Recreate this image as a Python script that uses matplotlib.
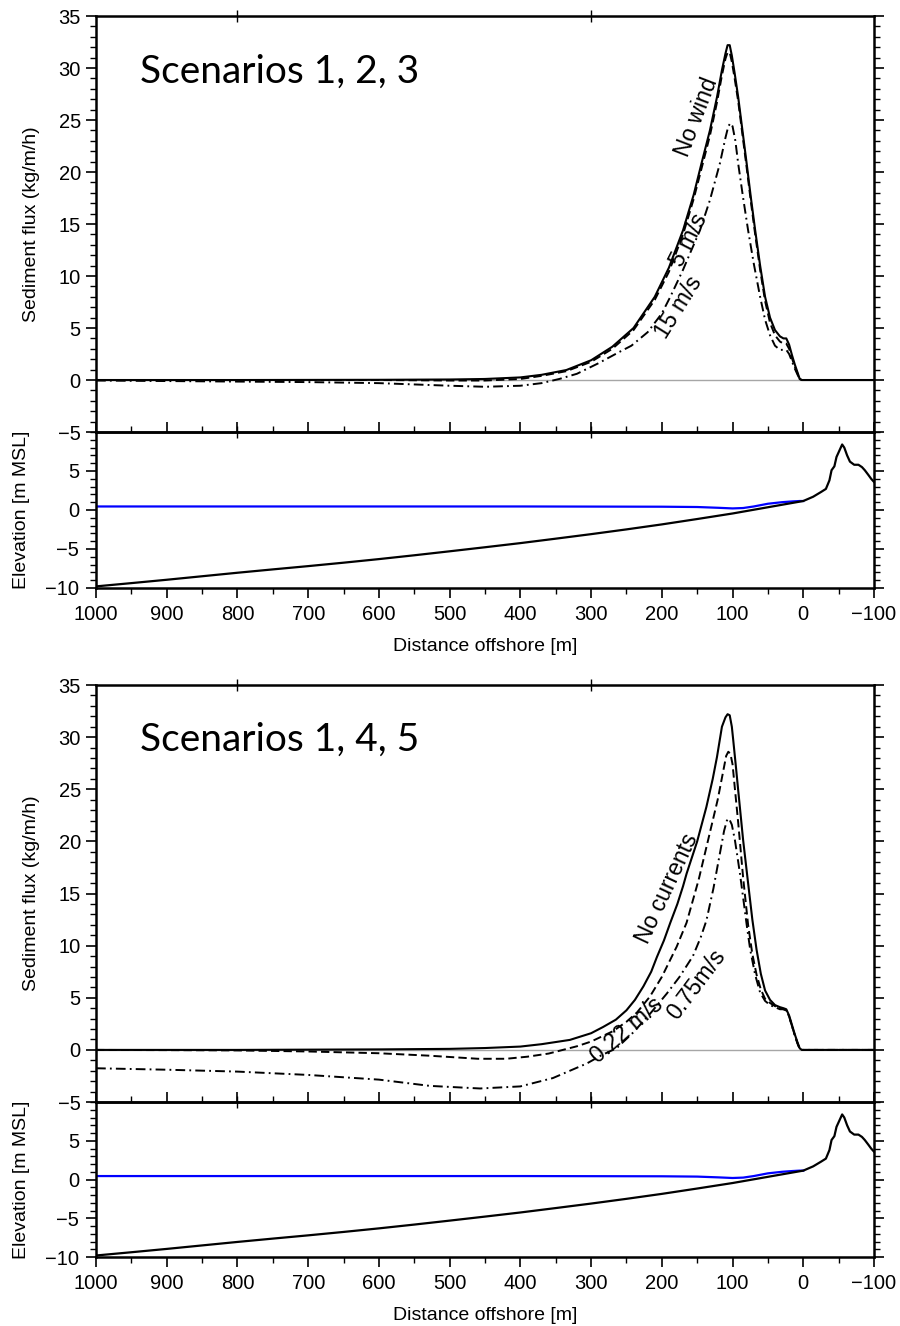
import matplotlib.pyplot as plt
from matplotlib.ticker import MultipleLocator, FixedLocator

plt.rcParams['font.family'] = ['Liberation Sans', 'DejaVu Sans']
plt.rcParams['lines.scale_dashes'] = False

# --- Scenarios 1, 2, 3 (wind) : sediment flux vs distance offshore ---
x_nowind = [1000, 800, 600, 500, 450, 400, 370, 335, 300, 270, 240, 210, 190, 170, 155, 144, 132,
            122, 115, 110, 107, 104, 101, 97, 92, 86, 80, 74, 68, 61, 54, 47, 40, 33, 28, 24,
            20, 16, 12, 8, 5, 2, -100]
q_nowind = [0, 0, 0.02, 0.05, 0.1, 0.25, 0.5, 0.96, 1.9, 3.2, 5.0, 8.0, 10.8, 14.4, 17.8, 20.8, 24.0,
            27.2, 29.8, 31.4, 32.2, 32.2, 31.2, 29.5, 27.2, 24.0, 20.8, 17.5, 14.4, 11.0, 8.0, 6.0,
            4.8, 4.2, 4.0, 4.0, 3.4, 2.4, 1.5, 0.7, 0.1, 0, 0]
q_wind5 = [0, 0, 0, -0.05, -0.05, 0.1, 0.4, 0.85, 1.75, 3.0, 4.8, 7.7, 10.4, 14.0, 17.4, 20.3, 23.5,
           26.7, 29.3, 30.9, 31.5, 31.5, 30.6, 29.0, 26.8, 23.6, 20.4, 17.1, 14.0, 10.6, 7.6, 5.5,
           4.3, 3.7, 3.5, 3.5, 3.0, 2.1, 1.3, 0.6, 0.1, 0, 0]
x_wind15 = [1000, 900, 800, 700, 600, 500, 450, 400, 370, 345, 320, 290, 260, 243, 220, 200, 188,
            170, 160, 146, 132, 118, 110, 106, 103, 100, 96, 92, 85, 78, 70, 61, 54, 47, 40, 33,
            28, 24, 20, 16, 12, 8, 5, 2, -100]
q_wind15 = [-0.05, -0.1, -0.15, -0.2, -0.3, -0.55, -0.65, -0.55, -0.3, 0.1, 0.6, 1.6, 2.7, 3.3, 4.6,
            6.4, 8.0, 10.6, 12.2, 14.4, 17.3, 20.8, 23.3, 24.4, 24.7, 24.4, 23.0, 20.8, 17.5, 14.4,
            11.2, 8.0, 5.8, 4.3, 3.3, 2.9, 2.9, 2.9, 2.5, 1.8, 1.1, 0.5, 0.1, 0, 0]

# --- Scenarios 1, 4, 5 (currents) ---
x_nocur = [1000, 800, 600, 500, 450, 400, 370, 330, 300, 283, 265, 250, 238, 226, 215, 207, 197,
           188, 178, 170, 165, 150, 137, 128, 122, 115, 110, 107, 104, 101, 99, 95, 92, 85, 78,
           72, 66, 60, 54, 47, 40, 33, 28, 24, 20, 16, 12, 8, 5, 2, -100]
q_nocur = [0, 0, 0.05, 0.1, 0.18, 0.32, 0.55, 0.96, 1.6, 2.2, 2.9, 3.8, 4.8, 6.1, 7.5, 8.9, 10.5,
           12.2, 14.0, 15.7, 16.9, 20.0, 23.3, 26.0, 28.1, 31.0, 31.9, 32.2, 32.1, 31.0, 29.7, 27.0,
           24.9, 20.1, 16.0, 12.5, 9.6, 7.3, 5.7, 4.8, 4.3, 4.1, 4.0, 3.9, 3.3, 2.4, 1.5, 0.7,
           0.15, 0, 0]
x_cur022 = [1000, 900, 800, 700, 600, 530, 460, 420, 390, 360, 340, 320, 300, 269, 250, 235, 217,
            200, 179, 165, 148, 135, 121, 113, 109, 106, 103, 100, 96.6, 92, 85, 78, 72, 66, 60,
            54, 47, 40, 33, 28, 24, 20, 16, 12, 8, 5, 2, -100]
q_cur022 = [0, -0.02, -0.05, -0.15, -0.32, -0.55, -0.85, -0.85, -0.65, -0.35, 0, 0.35, 0.8, 1.8,
            2.7, 3.6, 5.1, 7.0, 9.9, 12.2, 16.3, 20.0, 24.0, 26.8, 28.2, 28.6, 28.4, 27.4, 25.0,
            21.8, 16.5, 12.0, 9.2, 7.2, 5.8, 4.9, 4.5, 4.2, 4.0, 3.9, 3.8, 3.2, 2.3, 1.4, 0.6, 0.1,
            0, 0]
x_cur075 = [1000, 900, 800, 700, 600, 528, 457, 400, 354, 306, 285, 264, 240, 215, 193, 175, 156,
            145, 137, 127, 118, 112, 108, 105, 101, 96.6, 93, 89.5, 85, 80, 75, 68, 61, 54, 47, 40,
            33, 28, 24, 20, 16, 12, 8, 5, 2, -100]
q_cur075 = [-1.76, -1.9, -2.08, -2.4, -2.85, -3.45, -3.7, -3.5, -2.7, -1.3, -0.5, 0.16, 1.7, 3.6,
            5.4, 7.0, 9.0, 10.8, 12.4, 15.5, 18.8, 21.0, 22.0, 22.2, 21.6, 20.1, 18.5, 16.9, 14.6,
            12.0, 9.6, 7.2, 5.5, 4.7, 4.3, 4.1, 3.9, 3.9, 3.8, 3.2, 2.3, 1.4, 0.6, 0.1, 0, 0]

# --- Profile (same for both) ---
x_bed = [1000, 950, 900, 850, 800, 750, 700, 650, 600, 550, 500, 450, 400, 350, 300, 250, 200, 150,
         100, 50, 25, 0, -14, -25, -32, -37, -40, -44, -47, -51, -55, -58, -62, -66, -72, -78,
         -83, -87, -92, -96, -100]
z_bed = [-9.8, -9.38, -8.95, -8.5, -8.05, -7.62, -7.2, -6.76, -6.3, -5.81, -5.3, -4.78, -4.25, -3.68,
         -3.1, -2.49, -1.85, -1.16, -0.45, 0.35, 0.75, 1.15, 1.7, 2.3, 2.7, 3.8, 5.1, 5.6, 6.8, 7.6,
         8.4, 8.0, 7.0, 6.2, 5.8, 5.8, 5.5, 5.1, 4.5, 4.0, 3.6]
x_water = [1000, 800, 600, 400, 200, 150, 120, 100, 85, 70, 50, 30, 15, 5, 0]
z_water = [0.45, 0.45, 0.45, 0.45, 0.42, 0.38, 0.28, 0.2, 0.25, 0.45, 0.8, 1.0, 1.1, 1.15, 1.15]

DASH = (0, (6, 3))
DASHDOT = (0, (7, 3, 1.3, 3))


def style_flux(ax):
    ax.set_xlim(1000, -100)
    ax.set_ylim(-5, 35)
    ax.axhline(0, color='0.65', lw=1, zorder=1)
    ax.yaxis.set_major_locator(MultipleLocator(5))
    ax.yaxis.set_minor_locator(MultipleLocator(1))
    ax.xaxis.set_major_locator(FixedLocator([800, 300]))
    ax.tick_params(axis='y', which='both', left=True, right=True, direction='out', labelsize=14.5, pad=4)
    ax.tick_params(axis='y', which='major', length=7, width=1.2)
    ax.tick_params(axis='y', which='minor', length=4, width=1)
    ax.tick_params(axis='x', which='major', top=True, bottom=True, direction='inout', length=8,
                   width=1, labelbottom=False)
    ax.set_ylabel('Sediment flux (kg/m/h)', fontsize=14)
    ax.yaxis.set_label_coords(-0.072, 0.5)
    for s in ax.spines.values():
        s.set_linewidth(1.8)


def style_elev(ax):
    ax.set_xlim(1000, -100)
    ax.set_ylim(-10, 10)
    ax.patch.set_visible(False)
    ax.yaxis.set_major_locator(FixedLocator([-10, -5, 0, 5]))
    ax.yaxis.set_minor_locator(MultipleLocator(1))
    ax.xaxis.set_major_locator(MultipleLocator(100))
    ax.xaxis.set_minor_locator(MultipleLocator(50))
    ax.tick_params(which='both', left=True, right=True, top=True, bottom=True, direction='out',
                   labelsize=14.5, pad=5)
    ax.tick_params(which='major', length=7, width=1.2)
    ax.tick_params(which='minor', length=4, width=1)
    ax.set_ylabel('Elevation [m MSL]', fontsize=14)
    ax.yaxis.set_label_coords(-0.085, 0.5)
    ax.set_xlabel('Distance offshore [m]', fontsize=14, va='top')
    ax.xaxis.set_label_coords(0.5, -0.32)
    for s in ax.spines.values():
        s.set_linewidth(1.8)
    ax.plot(x_water, z_water, color='#0000ff', lw=1.6)
    ax.plot(x_bed, z_bed, color='black', lw=1.6)


fig = plt.figure(figsize=(9, 13.26), dpi=100)
L, W = 0.1067, 0.8644
ax1 = fig.add_axes([L, 0.6742, W, 0.3137])
ax2 = fig.add_axes([L, 0.5566, W, 0.1176])
ax3 = fig.add_axes([L, 0.1689, W, 0.3145])
ax4 = fig.add_axes([L, 0.0520, W, 0.1169])

style_flux(ax1)
ax1.plot(x_wind15, q_wind15, color='black', lw=1.4, linestyle=DASHDOT)
ax1.plot(x_nowind, q_wind5, color='black', lw=1.4, linestyle=DASH)
ax1.plot(x_nowind, q_nowind, color='black', lw=1.5)
lab = dict(fontsize=16.5, ha='center', va='center', rotation_mode='anchor')
ax1.text(150, 25.3, 'No wind', rotation=69, **lab)
ax1.text(161, 13.5, '5 m/s', rotation=63, **lab)
ax1.text(176, 7.0, '15 m/s', rotation=58, **lab)
ax1.text(0.0566, 0.865, 'Scenarios 1, 2, 3', transform=ax1.transAxes, fontsize=28,
         family='Lato', ha='left', va='center')
style_elev(ax2)

style_flux(ax3)
ax3.plot(x_cur075, q_cur075, color='black', lw=1.4, linestyle=DASHDOT)
ax3.plot(x_cur022, q_cur022, color='black', lw=1.4, linestyle=DASH)
ax3.plot(x_nocur, q_nocur, color='black', lw=1.5)
ax3.text(192, 15.5, 'No currents', rotation=65, **lab)
ax3.text(250, 1.9, '0.22 m/s', rotation=41, **lab)
ax3.text(151, 6.3, '0.75m/s', rotation=53, **lab)
ax3.text(0.0566, 0.868, 'Scenarios 1, 4, 5', transform=ax3.transAxes, fontsize=28,
         family='Lato', ha='left', va='center')
style_elev(ax4)

fig.savefig('out.png', dpi=100)
